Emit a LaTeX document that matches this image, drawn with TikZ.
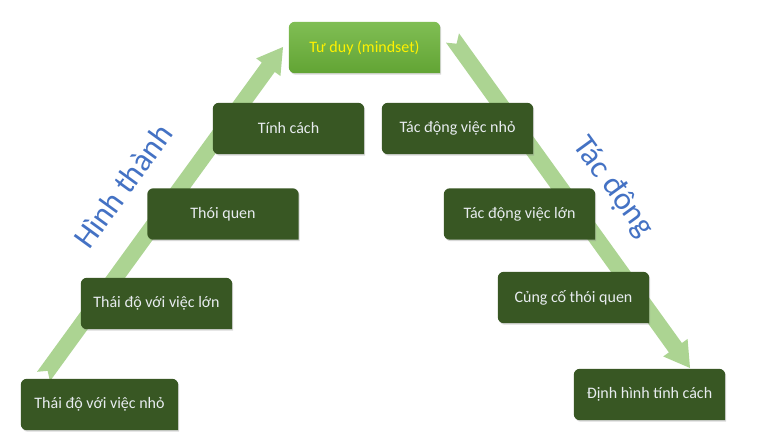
\documentclass[tikz,border=0pt]{standalone}
\usepackage{fontspec}
\setmainfont{Carlito}
\usepackage{xcolor}
\usepackage{tikz}
\usetikzlibrary{calc,backgrounds,shadows}
\definecolor{box green}{RGB}{56,87,35}
\definecolor{box text}{RGB}{232,236,240}
\definecolor{top light}{RGB}{128,190,84}
\definecolor{top dark}{RGB}{98,164,52}
\definecolor{arrow green}{RGB}{172,212,146}
\definecolor{word blue}{RGB}{68,114,196}
\tikzset{
    level box/.style={minimum width=151pt,minimum height=51pt,inner sep=0pt,text=box text},
    box fill/.style={fill=box green,drop shadow={opacity=.3,shadow xshift=1pt,shadow yshift=-1.5pt}},
    top fill/.style={top color=top light,bottom color=top dark,drop shadow={opacity=.3,shadow xshift=1pt,shadow yshift=-1.5pt}},
    block arrow/.style={fill=arrow green},
    side word/.style={text=word blue,font=\fontsize{32}{36}\selectfont},
}
\tikzstyle{every node}=[font=\fontsize{16}{19}\selectfont]

\begin{document}
\begin{tikzpicture}[x=1pt,y=-1pt]
    \useasboundingbox (0,0) rectangle (768,436);
    % boxes
    \node[level box,text=yellow] (mind) at (364.5,47.5) {Tư duy (mindset)};
    \node[level box] (tinh) at (288.5,128.5) {Tính cách};
    \node[level box] (thoi) at (223,214) {Thói quen};
    \node[level box] (lon) at (156.5,303.5) {Thái độ với việc lớn};
    \node[level box,minimum width=157pt] (nho) at (99.5,404.5) {Thái độ với việc nhỏ};
    \node[level box] (tdnho) at (457.5,128.5) {Tác động việc nhỏ};
    \node[level box] (tdlon) at (519.5,214) {Tác động việc lớn};
    \node[level box] (cung) at (573.5,297.5) {Củng cố thói quen};
    \node[level box] (dinh) at (649.5,394.5) {Định hình tính cách};
    % words along the arrows
    \node[side word,rotate=54] (hinhthanh) at (123,186) {Hình thành};
    \node[side word,rotate=-54] (tacdong) at (613,187) {Tác động};
    % arrow ends
    \coordinate (up tail) at (43.5,376.5);
    \coordinate (up tip) at (283,47);
    \coordinate (down tail) at (452.5,38);
    \coordinate (down tip) at (690,368);
    \begin{scope}[on background layer]
        \fill[white] (0,0) rectangle (768,436);
        \foreach \a/\b in {up tail/up tip,down tail/down tip}
            \fill[block arrow] ($(\a)!8pt!90:(\b)$) -- ($($(\b)!25pt!(\a)$)!8pt!-90:(\a)$)
                -- ($($(\b)!25pt!(\a)$)!15pt!-90:(\a)$) -- (\b)
                -- ($($(\b)!25pt!(\a)$)!15pt!90:(\a)$) -- ($($(\b)!25pt!(\a)$)!8pt!90:(\a)$)
                -- ($(\a)!8pt!-90:(\b)$) -- ($(\a)!7pt!(\b)$) -- cycle;
        \foreach \n in {tinh,thoi,lon,nho,tdnho,tdlon,cung,dinh}
            \fill[box fill] (\n.south east) [rounded corners=6pt] -- (\n.north east) -- (\n.north west) -- (\n.south west) [sharp corners] -- cycle;
        \shade[top fill] (mind.south east) [rounded corners=6pt] -- (mind.north east) -- (mind.north west) -- (mind.south west) [sharp corners] -- cycle;
    \end{scope}
\end{tikzpicture}
\end{document}
